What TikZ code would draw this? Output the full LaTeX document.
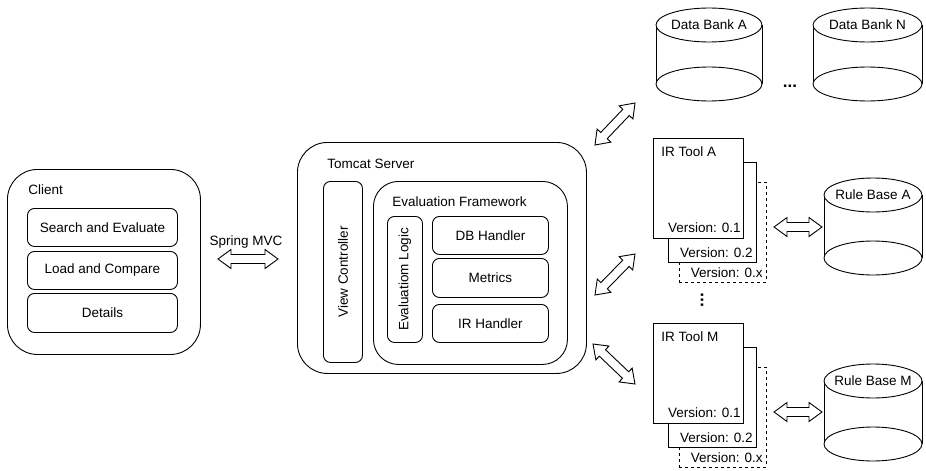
\documentclass[tikz,border=0pt]{standalone}
\usepackage{fontspec}
\setmainfont{Liberation Sans}
\usetikzlibrary{calc}
\newcommand{\arrHL}{13pt}
\newcommand{\arrHW}{9.5pt}
\newcommand{\arrSW}{4.5pt}
\newcommand{\dblarrow}[2]{%
  \draw[blockarrow] (#1)
    -- ($(#1)!\arrHL!(#2)!\arrHW!90:(#2)$)
    -- ($(#1)!\arrHL!(#2)!\arrSW!90:(#2)$)
    -- ($(#2)!\arrHL!(#1)!\arrSW!-90:(#1)$)
    -- ($(#2)!\arrHL!(#1)!\arrHW!-90:(#1)$)
    -- (#2)
    -- ($(#2)!\arrHL!(#1)!\arrHW!90:(#1)$)
    -- ($(#2)!\arrHL!(#1)!\arrSW!90:(#1)$)
    -- ($(#1)!\arrHL!(#2)!\arrSW!-90:(#2)$)
    -- ($(#1)!\arrHL!(#2)!\arrHW!-90:(#2)$)
    -- cycle;}
% cylinder: name, cx, top centre y, bottom centre y, rx, ry, label
\newcommand{\cylshape}[7]{%
  \coordinate (#1-t) at (#2,#3);
  \coordinate (#1-b) at (#2,#4);
  \fill[white] ($(#1-t)+(-#5,0)$) rectangle ($(#1-b)+(#5,0)$);
  \draw ($(#1-t)+(-#5,0)$) -- ($(#1-b)+(-#5,0)$);
  \draw ($(#1-t)+(#5,0)$) -- ($(#1-b)+(#5,0)$);
  \draw[fill=white] (#1-t) ellipse [x radius=#5, y radius=#6];
  \draw[fill=white] (#1-b) ellipse [x radius=#5, y radius=#6];
  \node[lbl] (#1) at (#1-t) {#7};}
\begin{document}
\begin{tikzpicture}[x=1pt,y=-1pt,
  font=\fontsize{13.5}{15}\selectfont,
  line width=0.9pt,
  rbox/.style={draw, fill=white, rounded corners=#1, anchor=north west, inner sep=0pt},
  sbox/.style={draw, fill=white, anchor=north west, inner sep=0pt},
  lbl/.style={inner sep=0pt},
  dotlbl/.style={inner sep=0pt, font=\fontsize{17}{17}\selectfont\bfseries},
  blockarrow/.style={draw, fill=white, line width=0.9pt, line join=miter}]
\useasboundingbox (0,0) rectangle (926,471);

% Client
\node[rbox=30pt, minimum width=193pt, minimum height=185pt] (client) at (7,169) {};
\node[lbl, anchor=west] (clientlbl) at (28,190) {Client};
\node[rbox=7pt, minimum width=150pt, minimum height=38pt] (search) at (27,208) {};
\node[lbl] at (search.center) {Search and Evaluate};
\node[rbox=7pt, minimum width=150pt, minimum height=38pt] (load) at (27,251) {};
\node[lbl] at (load.center) {Load and Compare};
\node[rbox=7pt, minimum width=150pt, minimum height=39pt] (details) at (27,293) {};
\node[lbl] at (details.center) {Details};

% Spring MVC
\node[lbl] (spring) at (246,242) {Spring MVC};
\coordinate (sp1) at (218,259);
\coordinate (sp2) at (278,259);
\dblarrow{sp1}{sp2}

% Tomcat
\node[rbox=30pt, minimum width=289pt, minimum height=231pt] (tomcat) at (297,142) {};
\node[lbl, anchor=west] at (327,164) {Tomcat Server};
\node[rbox=7pt, minimum width=39pt, minimum height=181pt] (vc) at (323,181) {};
\node[lbl, rotate=90] at (vc.center) {View Controller};
\node[rbox=25pt, minimum width=194pt, minimum height=183pt] (ef) at (373,181) {};
\node[lbl, anchor=west] at (392,202) {Evaluation Framework};
\node[rbox=7pt, minimum width=35pt, minimum height=126pt] (el) at (387,216) {};
\node[lbl, rotate=90] at (el.center) {Evaluatiom Logic};
\node[rbox=7pt, minimum width=116pt, minimum height=38pt] (db) at (432,216) {};
\node[lbl] at (db.center) {DB Handler};
\node[rbox=7pt, minimum width=116pt, minimum height=39pt] (metrics) at (432,258) {};
\node[lbl] at (metrics.center) {Metrics};
\node[rbox=7pt, minimum width=116pt, minimum height=38pt] (irh) at (432,304) {};
\node[lbl] at (irh.center) {IR Handler};

% Data banks
\cylshape{dbA}{709}{25}{84}{53}{17}{Data Bank A}
\cylshape{dbN}{867.5}{25}{84}{54.5}{17}{Data Bank N}
\node[dotlbl] (dots) at (790,86) {...};

% IR Tool A
\node[sbox, dashed, minimum width=87pt, minimum height=100pt] (irA3) at (679,182) {};
\node[sbox, minimum width=88pt, minimum height=100pt] (irA2) at (668,162) {};
\node[sbox, minimum width=90pt, minimum height=100pt] (irA1) at (653,138) {};
\node[lbl, anchor=west] at (661,152) {IR Tool A};
\node[lbl, anchor=east] at (741,228) {Version: 0.1};
\node[lbl, anchor=east] at (753,253) {Version: 0.2};
\node[lbl, anchor=east] at (763,273) {Version: 0.x};

\node[dotlbl, rotate=90] (vdots) at (702,300) {...};

% IR Tool M
\node[sbox, dashed, minimum width=87pt, minimum height=100pt] (irM3) at (679,367) {};
\node[sbox, minimum width=88pt, minimum height=100pt] (irM2) at (668,347) {};
\node[sbox, minimum width=90pt, minimum height=100pt] (irM1) at (653,323) {};
\node[lbl, anchor=west] at (661,337) {IR Tool M};
\node[lbl, anchor=east] at (741,413) {Version: 0.1};
\node[lbl, anchor=east] at (753,438) {Version: 0.2};
\node[lbl, anchor=east] at (763,458) {Version: 0.x};

% Rule bases
\cylshape{rbA}{873}{195}{258}{49}{17}{Rule Base A}
\cylshape{rbM}{873}{381}{444}{49}{17}{Rule Base M}

% Block arrows
\coordinate (t1a) at (595,145); \coordinate (t1b) at (635,103);
\coordinate (t2a) at (595,295); \coordinate (t2b) at (635,254);
\coordinate (t3a) at (593,344); \coordinate (t3b) at (635,384);
\coordinate (ra1) at (774,227); \coordinate (ra2) at (822,227);
\coordinate (rm1) at (774,412); \coordinate (rm2) at (822,412);
\dblarrow{t1a}{t1b}
\dblarrow{t2a}{t2b}
\dblarrow{t3a}{t3b}
\dblarrow{ra1}{ra2}
\dblarrow{rm1}{rm2}
\end{tikzpicture}
\end{document}
